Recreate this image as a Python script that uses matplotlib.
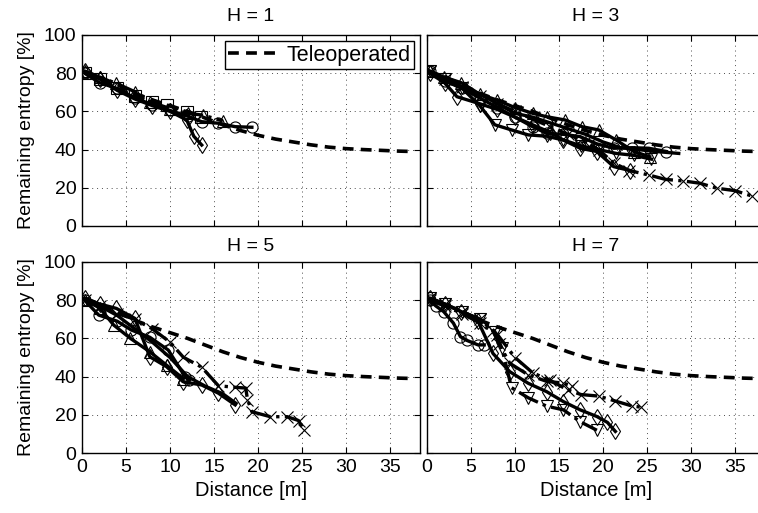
import numpy as np
import matplotlib
matplotlib.use('Agg')
import matplotlib.pyplot as plt

plt.rcParams['font.family'] = ['Liberation Sans', 'DejaVu Sans']

# teleoperated reference run (same in every panel)
teleop_x = [0.3, 2, 4, 6, 8, 10, 12, 14, 16, 18, 20, 22, 24, 26, 28, 30, 32, 34, 36, 37.6]
teleop_y = [81, 78, 74, 69.5, 66, 63, 60, 56.5, 53, 50, 47.5, 45.5, 44, 42.5, 41.3, 40.5, 40, 39.6, 39.2, 39]

# H = 1
h1_circ_x = [0.3, 2, 4, 6, 8, 10, 12, 13.6, 15.5, 17.4, 19.3]
h1_circ_y = [80, 75, 72, 67, 63.5, 60.5, 57.5, 54.6, 53.8, 52, 51.7]
h1_diam_x = [0.3, 2, 4, 6, 8, 10, 11.9, 12.7, 13.6]
h1_diam_y = [81, 77, 71, 66.5, 63, 60, 55.5, 47, 42.4]
h1_tri_x = [0.3, 2, 3.9, 6, 7.7, 10, 12, 13.8, 16]
h1_tri_y = [81, 78, 74.7, 70.3, 65.1, 61.5, 59, 58, 55]
h1_dash_x = [0.3, 2, 4, 6, 8, 9.6, 11.9, 13.5]
h1_dash_y = [80, 77, 72, 68, 65, 63.4, 59.8, 57]

# H = 3
h3_circ_x = [0.3, 2, 4, 6, 8, 10, 12, 13.6, 15.5, 17.4, 19.3, 21.2, 23.3, 25.2, 27.2]
h3_circ_y = [81, 76, 72, 67, 62, 57, 52, 48.5, 48, 46.8, 43, 40.7, 41, 40.7, 39]
h3_tri_x = [0.3, 1.9, 3.9, 6, 7.9, 10, 12, 13.6, 15.7, 17.6, 19.5, 21.5, 23.5, 25.3]
h3_tri_y = [81, 78, 75, 69, 66, 62, 59, 57.2, 55.5, 52, 50.3, 45, 39, 36.3]
h3_dtri_x = [0.3, 2, 4, 6, 7.7, 9.6, 11.5, 13.6, 15.5, 17.5, 19.5, 21.5, 23.5, 25.5]
h3_dtri_y = [81, 77, 72, 63, 53, 50.3, 47.7, 47, 45, 42, 40, 38, 37, 35]
h3_diam_x = [0.3, 2, 3.4, 6, 8, 10, 12, 14, 15.5, 17.4, 19.3, 21.2, 23.1]
h3_diam_y = [80, 75, 67.7, 64, 61, 57, 53, 49, 45, 40.7, 39, 31.1, 29]
h3_solid_x = [0.3, 2, 4, 6, 8, 10, 12, 14, 16, 18, 20, 22, 24, 26, 28.6]
h3_solid_y = [80, 77, 73, 69, 64, 59, 57, 54, 51, 48, 44, 41, 40, 39, 38]
h3_x_x = [0.3, 2, 4, 6, 8, 10, 12, 14, 16, 18, 19.5, 21.2, 23, 25.2, 27.1, 29.1, 31, 32.9, 35, 36.9]
h3_x_y = [81, 77, 73, 68, 64, 60, 56, 52, 48, 44, 40, 33, 29, 26.7, 24.4, 23.6, 22.4, 19.8, 18.5, 15.7]

# H = 5
h5_circ_x = [0.3, 1.9, 4, 5.6, 7.7, 9.8, 11.7, 12.2]
h5_circ_y = [80, 72.2, 69, 64.4, 60.6, 53.9, 40, 38]
h5_diam_x = [0.3, 2, 3.9, 6, 7.7, 9.6, 11.5, 13.6, 15.5, 17.4]
h5_diam_y = [81, 78, 75.7, 70.5, 50.4, 45.2, 37.3, 35.6, 31.3, 25.2]
h5_tri_x = [0.3, 2, 3.6, 5.5, 7.7, 9.6, 11.5]
h5_tri_y = [80, 76, 67, 60, 53, 46, 39]
h5_solid_x = [0.3, 2, 4, 6, 8, 10, 12, 14, 16, 17.5]
h5_solid_y = [81, 77, 72, 65, 58, 50, 40, 35, 31, 26]
h5_x_x = [0.3, 2, 4, 6, 8, 10, 11.5, 13.6, 15.5, 17.4, 18.6, 18.8, 19.3, 21.4, 23.3, 24.6, 25.2]
h5_x_y = [80, 77, 73, 70, 65, 58, 50.2, 44.9, 35.2, 34.4, 34, 28, 21.6, 19, 19, 17, 12.1]

# H = 7
h7_circ_x = [0.3, 1, 1.9, 3, 3.8, 4.5, 5.8, 6.5]
h7_circ_y = [80, 77, 74, 68, 60.9, 59, 56.6, 56.6]
h7_diam_x = [0.3, 2, 3.9, 5.8, 7.5, 9.4, 11.5, 13.6, 15.5, 17.4, 19.3, 20.5, 21.4]
h7_diam_y = [81, 78, 74, 69, 52.1, 42.6, 36.5, 32.1, 26.9, 22.6, 19.1, 16, 11.3]
h7_xa_x = [0.3, 2, 4, 6, 7.5, 8.2, 9.4, 11.5, 13.6, 15.5, 16.5]
h7_xa_y = [81, 78, 74, 70, 64, 57, 47, 40.9, 37.5, 36.6, 35]
h7_xb_x = [0.3, 2, 4, 6, 8, 10, 12, 14, 16, 17.5, 19.5, 21.4, 23.3, 24.3]
h7_xb_y = [80, 77, 73, 68, 62, 50, 42, 38, 33, 30.6, 29.8, 27.2, 24.6, 24]
h7_dtri_x = [0.3, 2, 4, 6, 7.7, 8.5, 9.6, 11.5, 13.6, 15.5, 17.4, 19.3]
h7_dtri_y = [81, 78, 74, 70, 63.6, 55, 34.2, 28.9, 24.5, 22.6, 16.4, 11.9]

titles = ['H = 1', 'H = 3', 'H = 5', 'H = 7']

panels = [
    [(h1_circ_x, h1_circ_y, '-', 'o'), (h1_diam_x, h1_diam_y, '-', 'd'),
     (h1_tri_x, h1_tri_y, '-.', '^'), (h1_dash_x, h1_dash_y, '--', 's')],
    [(h3_circ_x, h3_circ_y, '-', 'o'), (h3_tri_x, h3_tri_y, '-', '^'),
     (h3_dtri_x, h3_dtri_y, '-', 'v'), (h3_diam_x, h3_diam_y, '-', 'd'),
     (h3_solid_x, h3_solid_y, '-', None), (h3_x_x, h3_x_y, '-.', 'x')],
    [(h5_circ_x, h5_circ_y, '-', 'o'), (h5_diam_x, h5_diam_y, '-', 'd'),
     (h5_tri_x, h5_tri_y, '-', '^'), (h5_solid_x, h5_solid_y, '-', None),
     (h5_x_x, h5_x_y, '-.', 'x')],
    [(h7_circ_x, h7_circ_y, '-', 'o'), (h7_diam_x, h7_diam_y, '-', 'd'),
     (h7_xa_x, h7_xa_y, '-.', 'x'), (h7_xb_x, h7_xb_y, '-.', 'x'),
     (h7_dtri_x, h7_dtri_y, '-.', 'v')],
]

fig = plt.figure(figsize=(7.58, 5.13), dpi=100)
W, H = 758, 513
lefts = [82, 427]
tops = [35, 262]
aw, ah = 338, 191

for i in range(4):
    r, c = divmod(i, 2)
    ax = fig.add_axes([lefts[c] / W, (H - tops[r] - ah) / H, aw / W, ah / H])
    for (x, y, ls, mk) in panels[i]:
        ax.plot(x, y, color='k', ls=ls, lw=2.4, marker=mk, ms=8, mfc='none',
                mec='k', mew=0.8)
    tl, = ax.plot(teleop_x, teleop_y, color='k', ls=(0, (3, 2)), lw=2.6,
                  label='Teleoperated')
    ax.set_xlim(0, 38.4)
    ax.set_ylim(0, 100)
    ax.set_xticks(np.arange(0, 36, 5))
    ax.set_yticks(np.arange(0, 101, 20))
    ax.grid(True, ls=(0, (1, 4)), color='k', lw=0.7, alpha=0.7)
    ax.tick_params(direction='in', top=True, right=True, labelsize=14,
                   length=4, pad=4)
    for sp in ax.spines.values():
        sp.set_linewidth(1.0)
    ax.set_title(titles[i], fontsize=14, pad=10 if r == 0 else 8)
    if c == 0:
        ax.set_ylabel('Remaining entropy [%]', fontsize=14, labelpad=6)
    else:
        ax.set_yticklabels([])
    if r == 1:
        ax.set_xlabel('Distance [m]', fontsize=14.5, labelpad=4)
    else:
        ax.set_xticklabels([])
    if i == 0:
        leg = ax.legend(handles=[tl], loc='upper right', fontsize=15.5,
                        fancybox=False, edgecolor='k', framealpha=1,
                        handlelength=2.3, handletextpad=0.4,
                        borderpad=0.15, borderaxespad=0.3)
        leg.get_frame().set_linewidth(1.0)

fig.savefig('out.png', dpi=100)
